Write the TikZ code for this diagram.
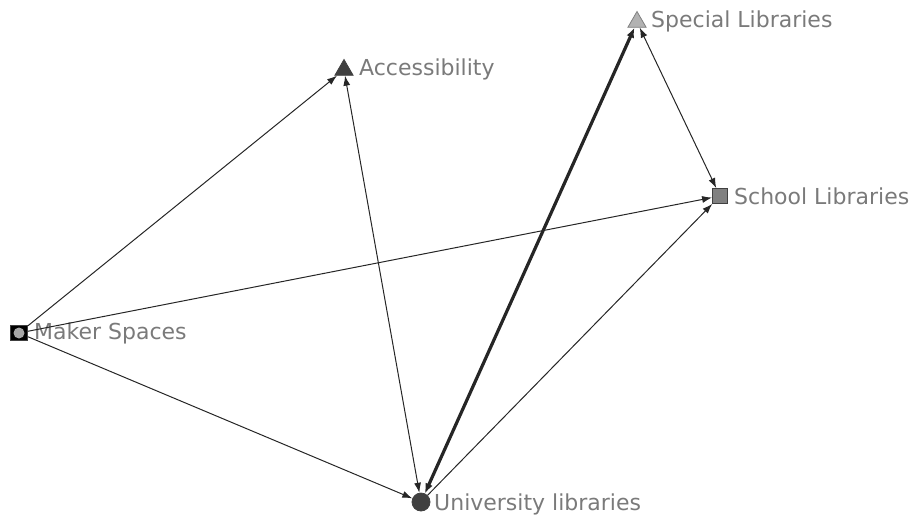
\documentclass[tikz,border=0pt]{standalone}
\usepackage{fontspec}
\setmainfont{DejaVu Sans}
\usepackage{tikz}
\usetikzlibrary{arrows.meta}
\usetikzlibrary{positioning,shapes.geometric}
\tikzset{
    every node/.style={font=\fontsize{22}{26}\selectfont},
    link/.style={
        draw=black!85,
        line width=1pt,
        -{Latex[length=10pt, width=7pt]}
    }
}
\definecolor{labelgray}{HTML}{7A7A7A}

\begin{document}
\begin{tikzpicture}[x=1pt,y=-1pt]
  % Define styles for the actors
  \tikzset{
    actor/.style={
      draw=black!75,
      inner sep=0pt,
      line width=0.8pt
    },
    actorlabel/.style={
      text=labelgray,
      inner sep=0pt,
      anchor=west
    }
  }
  \useasboundingbox (0,0) rectangle (916,515);

  % Actors
  \node[actor, rectangle, fill=black, minimum width=17pt, minimum height=15pt] (maker) at (19,333) {};
  \node[circle, fill=black!35, minimum size=11pt, inner sep=0pt] (makerdot) at (maker) {};
  \node[actor, regular polygon, regular polygon sides=3, fill=black!75, minimum size=21pt] (access) at (344,70) {};
  \node[actor, regular polygon, regular polygon sides=3, fill=black!30, draw=black!50, minimum size=21pt] (special) at (637,22) {};
  \node[actor, rectangle, fill=black!50, minimum size=15pt] (school) at (720,196) {};
  \node[actor, circle, fill=black!75, minimum size=18pt] (univ) at (421,502) {};

  % Labels
  \node[actorlabel] (makerlbl) at (34,333) {Maker Spaces};
  \node[actorlabel] (accesslbl) at (359,69) {Accessibility};
  \node[actorlabel] (speciallbl) at (651,21) {Special Libraries};
  \node[actorlabel] (schoollbl) at (734,196) {School Libraries};
  \node[actorlabel] (univlbl) at (434,504) {University libraries};

  % Ties
  \draw[link] (maker) -- (access);
  \draw[link] (maker) -- (school);
  \draw[link] (maker) -- (univ);
  \draw[link, {Latex[length=10pt, width=7pt]}-{Latex[length=10pt, width=7pt]}] (access) -- (univ);
  \draw[link, line width=3.2pt, {Latex[length=10pt, width=8pt]}-{Latex[length=10pt, width=8pt]}] (univ) -- (special);
  \draw[link, {Latex[length=10pt, width=7pt]}-{Latex[length=10pt, width=7pt]}] (special) -- (school);
  \draw[link] (univ) -- (school);
\end{tikzpicture}
\end{document}
